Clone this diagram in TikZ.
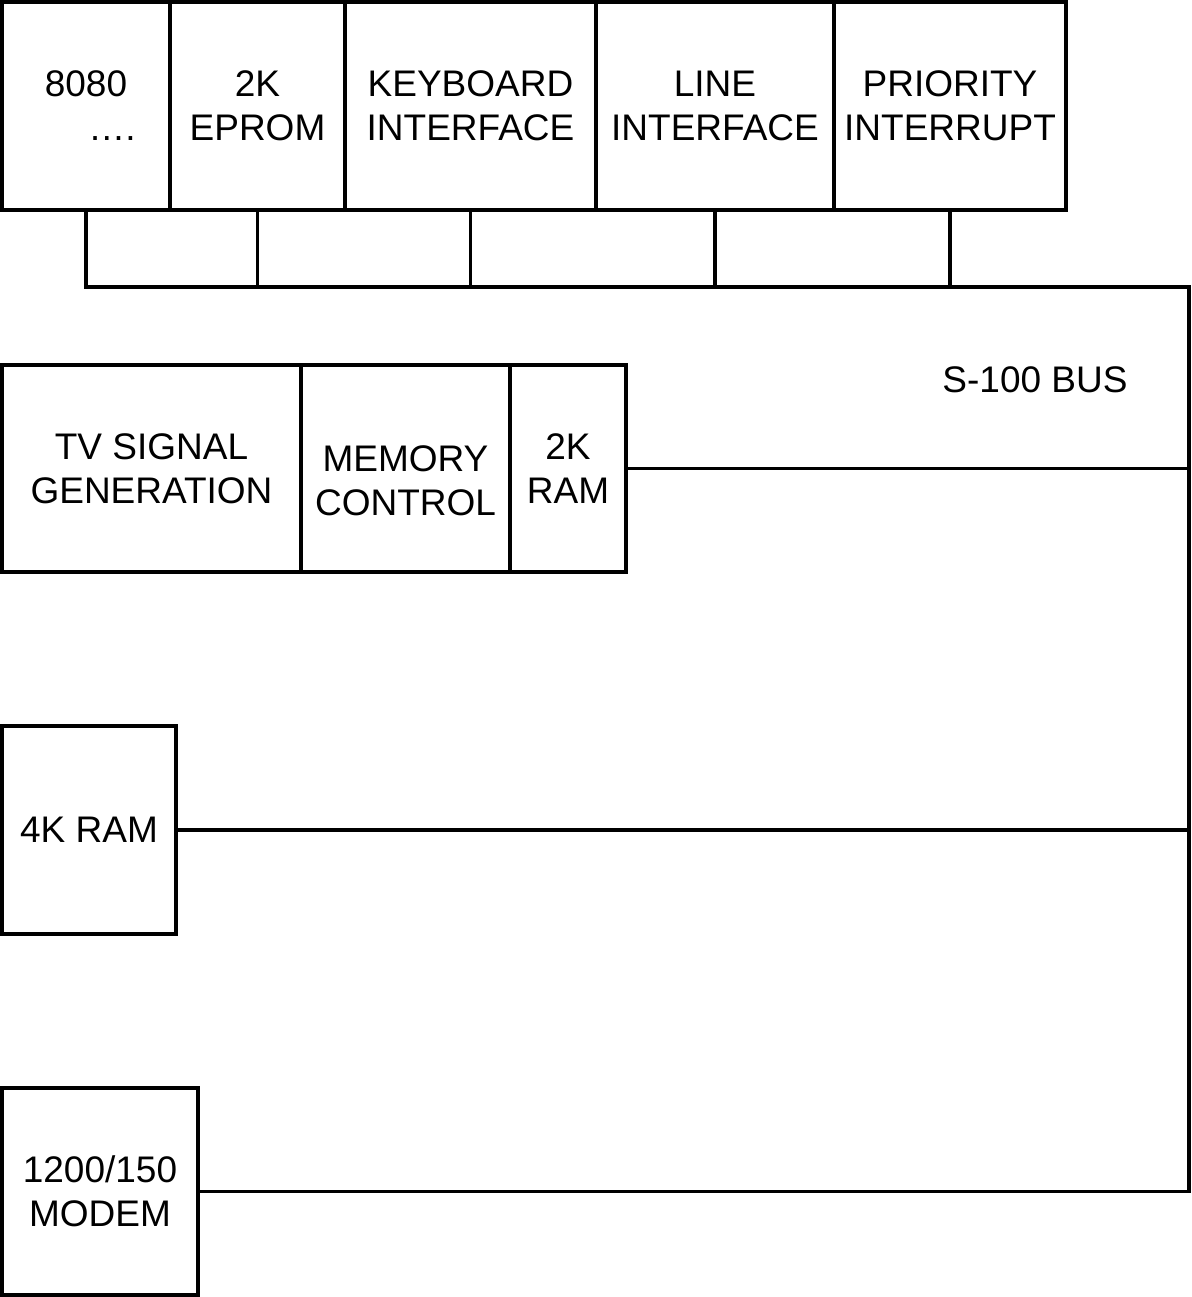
\documentclass[tikz,border=0pt]{standalone}
\usepackage{fontspec}
\setmainfont{Liberation Sans}
\usetikzlibrary{positioning}

\begin{document}
\begin{tikzpicture}[
    x=0.5pt, y=-0.5pt,
    node distance=0pt,
    unit/.style={rectangle, draw, line width=1.6pt, outer sep=0pt, inner sep=0pt,
        align=center, minimum height=104pt, font=\fontsize{18.5}{22}\selectfont},
    bus/.style={line width=1.6pt},
]
    \useasboundingbox (0,0) rectangle (1191,1297);

    % Processor board
    \node[unit, minimum width=84pt, anchor=north west] (cpu) at (2,2) {8080\\\hspace*{1.4em}….};
    \node[unit, minimum width=87.5pt, right=of cpu] (eprom) {2K\\EPROM};
    \node[unit, minimum width=125.5pt, right=of eprom] (kbd) {KEYBOARD\\INTERFACE};
    \node[unit, minimum width=119pt, right=of kbd] (line) {LINE\\INTERFACE};
    \node[unit, minimum width=116pt, right=of line] (prio) {PRIORITY\\INTERRUPT};

    % Video board
    \node[unit, minimum width=149.5pt, minimum height=103.5pt, anchor=north west] (tv) at (2,365) {TV SIGNAL\\GENERATION};
    \node[unit, minimum width=104.5pt, minimum height=103.5pt, right=of tv] (memctl) {\rule{0pt}{25pt}MEMORY\\CONTROL};
    \node[unit, minimum width=58pt, minimum height=103.5pt, right=of memctl] (ram2k) {2K\\RAM};

    % Other boards
    \node[unit, minimum width=87pt, anchor=north west] (ram4k) at (2,726) {4K RAM};
    \node[unit, minimum width=98pt, minimum height=103.5pt, anchor=north west] (modem) at (2,1088) {1200/150\\MODEM};

    \node[font=\fontsize{18.5}{22}\selectfont] (buslabel) at (1035,380) {S-100 BUS};

    % Bus
    \coordinate (busL) at (86,287);
    \coordinate (busR) at (1189,287);
    \draw[bus] (cpu.south) -- (busL) -- (busR) -- (busR |- modem.east) -- (modem.east);
    \foreach \n in {eprom, kbd, line, prio}
        \draw[bus] (\n.south) -- (\n.south |- busL);
    \draw[bus] (ram2k.east) -- (ram2k.east -| busR);
    \draw[bus] (ram4k.east) -- (ram4k.east -| busR);

\end{tikzpicture}
\end{document}
